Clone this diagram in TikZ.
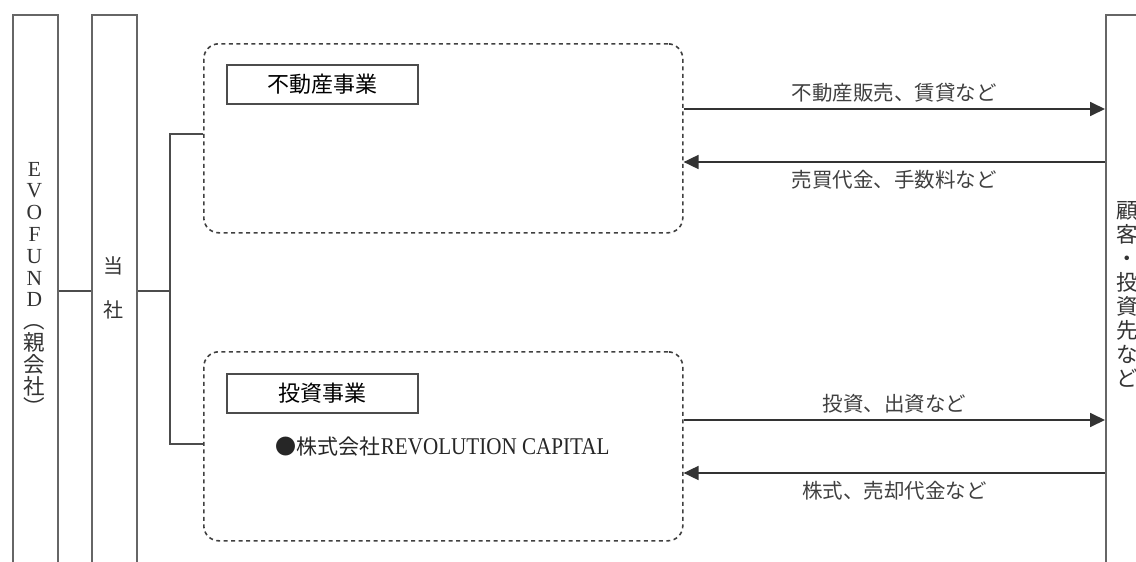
\documentclass[tikz,border=0pt]{standalone}
\usepackage{fontspec}
\setmainfont{Liberation Serif}
\newfontfamily\jp{Noto Sans CJK JP}
\newfontfamily\narrowserif[FakeStretch=0.88]{Liberation Serif}
\usetikzlibrary{arrows.meta,positioning}

\begin{document}
\begin{tikzpicture}[x=1pt,y=-1pt,line width=1.6pt,
	side box/.style={rectangle,draw=black!60,line width=2pt,anchor=north west,minimum height=620},
	biz box/.style={rectangle,draw=black!75,rounded corners=15,dash pattern=on 4pt off 3.5pt,anchor=north west,minimum width=479,minimum height=189},
	title box/.style={rectangle,draw=black!70,anchor=north west,minimum width=191,minimum height=39,font=\jp\fontsize{22}{24}\selectfont},
	vtext/.style={align=center,inner sep=0pt,text=black!80},
	flow/.style={draw=black!80,line width=1.8pt,-{Triangle[length=15pt,width=14pt]}},
	flow label/.style={font=\jp\fontsize{20.5}{22}\selectfont,text=black!75}]
		\useasboundingbox (0,0) rectangle (1136,562);
		% side columns
		\node[side box,minimum width=45] (parent) at (12,14) {};
		\node[side box,minimum width=45] (self) at (91,14) {};
		\node[side box,minimum width=80] (client) at (1105,14) {};
		\node[vtext,font=\fontsize{21.5}{21.8}\selectfont] (parenttext) at (34.5,289) {E\\V\\O\\F\\U\\N\\D\\{\jp ︵}\\{\jp 親}\\{\jp 会}\\{\jp 社}\\{\jp ︶}};
		\node[vtext,font=\jp\fontsize{20}{44}\selectfont] (selftext) at (113.5,288) {当\\社};
		\node[vtext,font=\jp\fontsize{21.5}{24}\selectfont] (clienttext) at (1127,294) {顧\\客\\・\\投\\資\\先\\な\\ど};
		% business units
		\node[biz box] (realty) at (203,43) {};
		\node[biz box] (invest) at (203,351) {};
		\node[title box] (realtytitle) at (226,64) {不動産事業};
		\node[title box] (investtitle) at (226,373) {投資事業};
		\node[anchor=west,inner sep=0pt,text=black!85] (revcap) at (275,447) {{\jp\fontsize{21}{24}\selectfont ●株式会社}{\narrowserif\fontsize{24}{24}\selectfont REVOLUTION CAPITAL}};
		% tree
		\coordinate (hub) at (170,291);
		\coordinate (tapA) at (170,134);
		\coordinate (tapB) at (170,444);
		\draw[black!70] (parent.east |- hub) -- (self.west |- hub);
		\draw[black!70] (self.east |- hub) -- (hub);
		\draw[black!70] (realty.west |- tapA) -- (tapA) -- (tapB) -- (invest.west |- tapB);
		% flows
		\draw[flow] (realty.east |- 0,109) -- (client.west |- 0,109) node[midway,above=3pt,flow label] (sale) {不動産販売、賃貸など};
		\draw[flow] (client.west |- 0,162) -- (realty.east |- 0,162) node[midway,below=4pt,flow label] (fee) {売買代金、手数料など};
		\draw[flow] (invest.east |- 0,420) -- (client.west |- 0,420) node[midway,above=3pt,flow label] (fund) {投資、出資など};
		\draw[flow] (client.west |- 0,473) -- (invest.east |- 0,473) node[midway,below=4pt,flow label] (exit) {株式、売却代金など};
\end{tikzpicture}
\end{document}
